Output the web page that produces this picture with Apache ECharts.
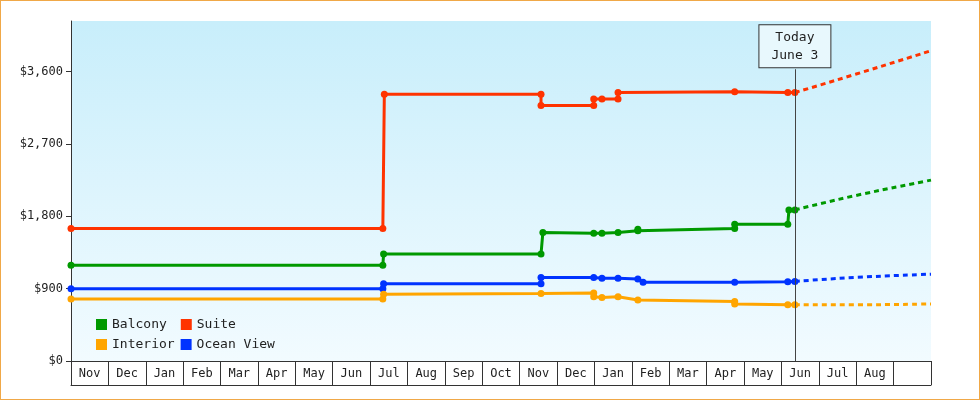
<!DOCTYPE html>
<html>
<head>
<meta charset="utf-8">
<script src="https://cdn.jsdelivr.net/npm/echarts@6/dist/echarts.min.js"></script>
<style>
  html, body { margin: 0; padding: 0; background: #fff; }
  #chart { width: 978px; height: 398px; border: 1px solid #f0a848; }
</style>
</head>
<body>
<div id="chart"></div>
<script>
// month boxes under the axis (last box blank)
const months = ['Nov', 'Dec', 'Jan', 'Feb', 'Mar', 'Apr', 'May', 'Jun', 'Jul', 'Aug', 'Sep', 'Oct',
  'Nov', 'Dec', 'Jan', 'Feb', 'Mar', 'Apr', 'May', 'Jun', 'Jul', 'Aug', ''];

// x is in months since start of first Nov
const today = 19.36;

const suite = [[0, 1650], [8.34, 1650], [8.38, 3320], [12.57, 3320], [12.57, 3180], [13.98, 3180],
  [13.98, 3260], [14.2, 3260], [14.63, 3260], [14.63, 3340], [17.75, 3350], [19.17, 3340], [19.36, 3340]];
const suiteFuture = [[19.36, 3340], [21, 3570], [23, 3860]];

const balcony = [[0, 1190], [8.34, 1190], [8.36, 1330], [12.57, 1330], [12.62, 1600], [13.98, 1590],
  [14.2, 1590], [14.63, 1600], [15.16, 1620], [15.16, 1640], [17.75, 1650], [17.75, 1700],
  [19.17, 1700], [19.2, 1880], [19.36, 1880]];
const balconyFuture = [[19.36, 1880], [21, 2060], [23, 2250]];

const oceanView = [[0, 900], [8.34, 900], [8.36, 960], [12.57, 960], [12.57, 1040], [13.98, 1040],
  [14.2, 1030], [14.63, 1030], [15.16, 1020], [15.3, 980], [17.75, 980], [19.17, 985], [19.36, 990]];
const oceanFuture = [[19.36, 990], [21, 1040], [23, 1080]];

const interior = [[0, 770], [8.34, 770], [8.36, 830], [12.57, 840], [13.98, 845], [13.98, 800],
  [14.2, 790], [14.63, 800], [15.16, 760], [17.75, 740], [17.75, 710], [19.17, 700], [19.36, 700]];
const interiorFuture = [[19.36, 700], [21, 700], [23, 710]];

const chart = echarts.init(document.getElementById('chart'));
const font = 'DejaVu Sans Mono';

function past(name, color, data, extra) {
  return Object.assign({
    name, type: 'line', data, color, symbol: 'circle', symbolSize: 7,
    lineStyle: { width: 3, color }, itemStyle: { color }, z: 3
  }, extra || {});
}
function future(name, color, data) {
  return {
    name, type: 'line', data, color, showSymbol: false, smooth: true,
    lineStyle: { width: 3, color, type: [5, 4] }, z: 2
  };
}

chart.setOption({
  animation: false,
  textStyle: { fontFamily: font },
  grid: {
    left: 70, right: 48, top: 20, bottom: 38, show: true, borderWidth: 0,
    backgroundColor: new echarts.graphic.LinearGradient(0, 0, 0, 1, [
      { offset: 0, color: '#c8eefb' }, { offset: 1, color: '#f2fbff' }
    ])
  },
  legend: [
    { data: ['Balcony', 'Suite'], left: 90, top: 312, itemGap: 14, icon: 'rect', itemWidth: 11, itemHeight: 11,
      textStyle: { fontFamily: font, fontSize: 13, color: '#222' } },
    { data: ['Interior', 'Ocean View'], left: 90, top: 332, itemGap: 6, icon: 'rect', itemWidth: 11, itemHeight: 11,
      textStyle: { fontFamily: font, fontSize: 13, color: '#222' } }
  ],
  xAxis: [
    { type: 'value', min: 0, max: 23, show: false },
    { type: 'category', data: months, position: 'bottom', boundaryGap: true,
      axisLine: { lineStyle: { color: '#333' } },
      axisTick: { show: true, interval: 0, length: 24, lineStyle: { color: '#333' } },
      axisLabel: { interval: 0, color: '#222', fontSize: 12, margin: 7, fontFamily: font } },
    { type: 'category', data: months, position: 'bottom', offset: 24,
      axisLine: { lineStyle: { color: '#333' } }, axisTick: { show: false }, axisLabel: { show: false } }
  ],
  yAxis: {
    type: 'value', min: 0, max: 4230, interval: 900,
    axisLine: { show: true, lineStyle: { color: '#333' } },
    axisTick: { show: true, length: 5, lineStyle: { color: '#333' } },
    splitLine: { show: false },
    axisLabel: { color: '#222', fontSize: 12, fontFamily: font, margin: 8, showMaxLabel: false,
      formatter: v => '$' + v.toLocaleString('en-US') }
  },
  series: [
    past('Suite', '#ff3300', suite, {
      markLine: {
        symbol: 'none', silent: true,
        lineStyle: { color: '#444', width: 1, type: 'solid' },
        label: {
          position: 'end', distance: 2, formatter: 'Today\nJune 3', color: '#222', fontFamily: font, fontSize: 13,
          lineHeight: 18, backgroundColor: '#e8f8fd', borderColor: '#333', borderWidth: 1, padding: [3, 12]
        },
        data: [[{ coord: [today, 0] }, { coord: [today, 3630] }]]
      }
    }),
    future('Suite', '#ff3300', suiteFuture),
    past('Balcony', '#009900', balcony),
    future('Balcony', '#009900', balconyFuture),
    past('Ocean View', '#0033ff', oceanView),
    future('Ocean View', '#0033ff', oceanFuture),
    past('Interior', '#ffa500', interior),
    future('Interior', '#ffa500', interiorFuture)
  ]
});
</script>
</body>
</html>
